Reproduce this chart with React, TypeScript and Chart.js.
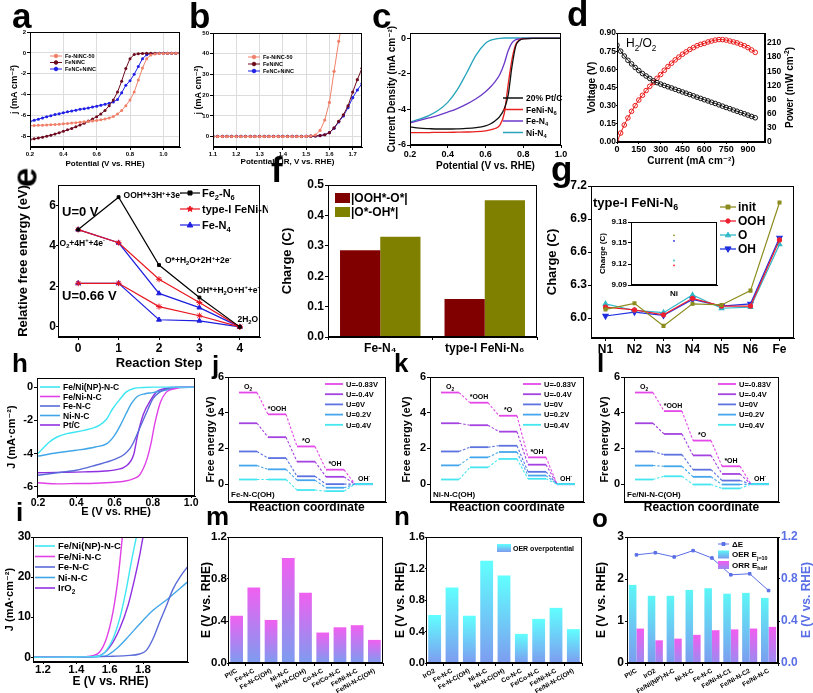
import React, { useEffect, useRef } from 'react';
import { Chart, registerables } from 'chart.js';

Chart.register(...registerables);

const FF = 'Arial, "Liberation Sans", "DejaVu Sans", sans-serif';

// ===================== DATA =====================
// (a) ORR polarization
const aPotential = [0.2, 0.225, 0.25, 0.275, 0.3, 0.325, 0.35, 0.375, 0.4, 0.425, 0.45, 0.475, 0.5, 0.525, 0.55, 0.575, 0.6, 0.625, 0.65, 0.675, 0.7, 0.725, 0.75, 0.775, 0.8, 0.825, 0.85, 0.875, 0.9, 0.925, 0.95, 0.975, 1.0, 1.025, 1.05, 1.075, 1.1];
const aFeNiNC50 = [-6.97, -6.95, -6.93, -6.91, -6.89, -6.87, -6.85, -6.82, -6.78, -6.75, -6.71, -6.67, -6.63, -6.58, -6.55, -6.51, -6.46, -6.4, -6.33, -6.22, -6.08, -5.85, -5.5, -5.05, -4.5, -3.75, -2.6, -1.45, -0.55, -0.2, -0.1, -0.06, -0.05, -0.04, -0.03, -0.03, -0.03];
const aFeNiNC = [-8.28, -8.22, -8.14, -8.06, -7.97, -7.87, -7.76, -7.63, -7.5, -7.36, -7.22, -7.07, -6.9, -6.72, -6.52, -6.32, -6.1, -5.84, -5.5, -5.05, -4.5, -3.75, -2.7, -1.5, -0.55, -0.15, -0.07, -0.05, -0.04, -0.04, -0.03, -0.03, -0.03, -0.03, -0.03, -0.03, -0.03];
const aFeNCNiNC = [-6.56, -6.45, -6.34, -6.22, -6.1, -6.0, -5.9, -5.81, -5.72, -5.64, -5.56, -5.48, -5.4, -5.33, -5.26, -5.18, -5.1, -5.01, -4.92, -4.82, -4.69, -4.45, -3.8, -3.1, -2.66, -2.05, -1.3, -0.55, -0.18, -0.08, -0.05, -0.04, -0.03, -0.03, -0.03, -0.03, -0.03];

// (b) OER polarization
const bPotential = [1.1, 1.12, 1.14, 1.16, 1.18, 1.2, 1.22, 1.24, 1.26, 1.28, 1.3, 1.32, 1.34, 1.36, 1.38, 1.4, 1.42, 1.44, 1.46, 1.48, 1.5, 1.52, 1.54, 1.56, 1.58, 1.6, 1.62, 1.64, 1.66, 1.68, 1.7, 1.72, 1.74];
const bFeNiNC50 = [0.05, 0.05, 0.05, 0.05, 0.05, 0.05, 0.05, 0.05, 0.05, 0.05, 0.05, 0.05, 0.05, 0.05, 0.05, 0.05, 0.05, 0.05, 0.05, 0.05, 0.1, 0.3, 0.8, 3.0, 8.0, 16.5, 31.5, 46, 58];
const bFeNiNC = [0.1, 0.1, 0.1, 0.1, 0.1, 0.1, 0.1, 0.1, 0.1, 0.1, 0.1, 0.1, 0.1, 0.1, 0.1, 0.1, 0.1, 0.1, 0.1, 0.1, 0.1, 0.2, 0.3, 0.5, 0.9, 1.9, 4.2, 7.4, 10.5, 14.8, 21.5, 27.5, 33];
const bFeNCNiNC = [0.1, 0.1, 0.1, 0.1, 0.1, 0.1, 0.1, 0.1, 0.1, 0.1, 0.1, 0.1, 0.1, 0.1, 0.1, 0.1, 0.1, 0.1, 0.1, 0.1, 0.1, 0.2, 0.3, 0.5, 0.9, 1.9, 4.0, 7.1, 10.0, 14.0, 18.8, 22.5, 25.6];

// (c) ORR curves
const cPotential = [0.2, 0.25, 0.3, 0.35, 0.4, 0.45, 0.5, 0.55, 0.6, 0.625, 0.65, 0.675, 0.7, 0.72, 0.74, 0.76, 0.78, 0.8, 0.85, 0.9, 0.95, 1.0];
const cPtC = [-4.98, -5.05, -5.08, -5.1, -5.1, -5.09, -5.07, -5.02, -4.92, -4.82, -4.65, -4.4, -3.95, -3.2, -1.6, -0.45, -0.12, -0.03, 0, 0, 0, 0];
const cFeNiN6 = [-5.3, -5.3, -5.3, -5.29, -5.29, -5.28, -5.27, -5.25, -5.2, -5.15, -5.07, -4.9, -4.2, -2.6, -1.2, -0.35, -0.08, -0.02, 0, 0, 0, 0];
const cFeN4 = [-4.75, -4.62, -4.48, -4.33, -4.15, -3.95, -3.7, -3.4, -3.0, -2.75, -2.45, -2.05, -1.4, -0.7, -0.25, -0.08, -0.03, -0.01, 0, 0, 0, 0];
const cNiN4 = [-4.7, -4.55, -4.35, -4.05, -3.6, -2.9, -1.95, -0.95, -0.28, -0.12, -0.05, 0, 0.02, 0.02, 0.02, 0.02, 0.02, 0.02, 0.02, 0.02, 0.02, 0.02];

// (d) H2/O2 fuel cell
const dCurrent = [0, 25, 50, 75, 100, 125, 150, 175, 200, 225, 250, 275, 300, 325, 350, 375, 400, 425, 450, 475, 500, 525, 550, 575, 600, 625, 650, 675, 700, 725, 750, 775, 800, 825, 850, 875, 900, 925, 950];
const dVoltage = [0.8, 0.75, 0.71, 0.675, 0.645, 0.615, 0.59, 0.565, 0.545, 0.525, 0.505, 0.49, 0.478, 0.467, 0.456, 0.446, 0.435, 0.424, 0.413, 0.403, 0.392, 0.381, 0.37, 0.36, 0.349, 0.339, 0.328, 0.318, 0.307, 0.296, 0.285, 0.275, 0.264, 0.254, 0.243, 0.233, 0.222, 0.211, 0.2];
const dPower = [0, 19, 36, 51, 65, 77, 89, 99, 109, 118, 126, 135, 143, 152, 160, 167, 174, 180, 186, 191, 196, 200, 204, 207, 209, 212, 214, 216, 217, 217, 216, 214, 212, 210, 207, 204, 200, 195, 190];

// (e) free energy diagram
const eSteps = [0, 1, 2, 3, 4];
const eFe2N6_U0 = [4.8, 6.4, 3.05, 1.45, 0];
const eFeNi_U0 = [4.8, 4.15, 2.35, 1.2, 0];
const eFeN4_U0 = [4.8, 4.15, 1.65, 0.95, 0];
const eFeNi_U066 = [2.15, 2.15, 1.0, 0.55, 0];
const eFeN4_U066 = [2.15, 2.15, 0.35, 0.3, 0];

// (f) charge differences
const fCats = ['Fe-N₄', 'type-I FeNi-N₆'];
const fOOH_O = [0.285, 0.125];
const fO_OH = [0.33, 0.45];

// (g) Bader charges
const gSites = ['N1', 'N2', 'N3', 'N4', 'N5', 'N6', 'Fe'];
const gInit = [6.08, 6.135, 5.93, 6.13, 6.12, 6.25, 7.05];
const gOOH = [6.1, 6.075, 6.03, 6.18, 6.11, 6.11, 6.71];
const gO = [6.13, 6.07, 6.05, 6.21, 6.09, 6.1, 6.67];
const gOH = [6.02, 6.055, 6.025, 6.17, 6.11, 6.13, 6.73];
const gInsetCats = ['Ni'];
const gInsetInit = [9.161];
const gInsetOOH = [9.118];
const gInsetO = [9.125];
const gInsetOH = [9.153];

// (h) ORR LSV
const hFeNiNP_E = [0.2, 0.26, 0.3, 0.35, 0.44, 0.52, 0.56, 0.59, 0.63, 0.66, 0.7, 0.75, 0.8, 1.02];
const hFeNiNP_J = [-4.0, -3.3, -3.0, -2.8, -2.6, -2.3, -1.9, -1.3, -0.7, -0.3, -0.08, -0.02, 0, 0];
const hFeNi_E = [0.2, 0.25, 0.3, 0.4, 0.5, 0.6, 0.65, 0.7, 0.73, 0.75, 0.77, 0.79, 0.81, 0.84, 0.87, 0.92, 0.96, 1.02];
const hFeNi_J = [-5.75, -5.8, -5.82, -5.8, -5.78, -5.72, -5.66, -5.5, -5.3, -4.9, -4.3, -3.4, -2.2, -0.9, -0.3, -0.08, -0.01, 0];
const hFeNC_E = [0.2, 0.3, 0.4, 0.5, 0.6, 0.65, 0.68, 0.7, 0.73, 0.77, 0.8, 0.84, 0.87, 0.92, 0.96, 1.02];
const hFeNC_J = [-5.3, -5.15, -5.0, -4.7, -4.35, -4.05, -3.7, -3.3, -2.5, -1.45, -0.7, -0.27, -0.1, -0.02, 0, 0];
const hNiNC_E = [0.2, 0.3, 0.4, 0.5, 0.56, 0.6, 0.63, 0.66, 0.69, 0.72, 0.76, 0.8, 0.87, 0.94, 1.02];
const hNiNC_J = [-4.15, -3.95, -3.8, -3.6, -3.4, -2.9, -2.3, -1.6, -0.95, -0.55, -0.4, -0.33, -0.17, -0.03, 0];
const hPtC_E = [0.2, 0.3, 0.44, 0.55, 0.61, 0.66, 0.7, 0.72, 0.75, 0.79, 0.82, 0.87, 0.92, 1.02];
const hPtC_J = [-5.15, -5.13, -5.1, -5.05, -4.96, -4.75, -4.05, -2.9, -1.65, -0.75, -0.27, -0.07, -0.01, 0];

// (i) OER LSV
const iFeNiNP_E = [1.14, 1.4, 1.5, 1.54, 1.58, 1.62, 1.66, 1.7, 1.73, 1.76, 1.78];
const iFeNiNP_J = [0, 0.05, 0.15, 0.3, 1.7, 4.6, 9.6, 17, 23.8, 30, 34];
const iFeNi_E = [1.14, 1.4, 1.46, 1.5, 1.54, 1.58, 1.62, 1.65, 1.676, 1.69];
const iFeNi_J = [0, 0.05, 0.15, 0.4, 1.3, 4.6, 11.3, 19.6, 30, 36];
const iFeNC_E = [1.14, 1.5, 1.6, 1.7, 1.78, 1.82, 1.86, 1.9, 1.94, 1.98, 2.03, 2.07];
const iFeNC_J = [0, 0.1, 0.2, 0.4, 0.8, 1.7, 4.6, 8.8, 12.8, 17.0, 20.5, 22.7];
const iNiNC_E = [1.14, 1.5, 1.54, 1.58, 1.64, 1.7, 1.78, 1.86, 1.95, 2.02, 2.07];
const iNiNC_J = [0, 0.1, 0.2, 0.4, 2.1, 4.6, 8.3, 11.7, 14.6, 17.1, 18.9];
const iIrO2_E = [1.14, 1.45, 1.5, 1.54, 1.6, 1.66, 1.71, 1.75, 1.78, 1.8, 1.82];
const iIrO2_J = [0, 0.1, 0.2, 0.4, 2.5, 7.1, 12.9, 19.6, 25.4, 30, 34];

// (j,k,l) free energy levels: rows = U=-0.83, -0.4, 0, 0.2, 0.4 V
const jLevels = [
  [5.13, 3.91, 2.11, 0.81, 0],
  [3.41, 2.63, 1.26, 0.41, 0],
  [1.83, 1.46, 0.44, 0.0, 0],
  [1.04, 0.83, 0.22, -0.2, 0],
  [0.26, 0.26, -0.33, -0.39, 0],
];
const kLevels = [
  [5.13, 4.56, 3.83, 1.5, 0],
  [3.41, 3.3, 2.94, 1.09, 0],
  [1.83, 2.07, 2.15, 0.69, 0],
  [1.05, 1.5, 1.8, 0.48, 0],
  [0.26, 0.94, 1.41, 0.3, 0],
];
const lLevels = [
  [5.13, 4.09, 2.44, 1.0, 0],
  [3.41, 2.81, 1.61, 0.57, 0],
  [1.83, 1.65, 0.81, 0.2, 0],
  [1.04, 1.0, 0.41, -0.02, 0],
  [0.26, 0.44, -0.02, -0.24, 0],
];
const uLabels = ['U=-0.83V', 'U=-0.4V', 'U=0V', 'U=0.2V', 'U=0.4V'];
const levelNames = ['O_{2}', '*OOH', '*O', '*OH', 'OH^{-}'];

// (m) ORR overpotential
const mCats = ['Pt/C', 'Fe-N-C', 'Fe-N-C(OH)', 'Ni-N-C', 'Ni-N-C(OH)', 'Co-N-C', 'Fe/Co-N-C', 'Fe/Ni-N-C', 'Fe/Ni-N-C(OH)'];
const mORR = [0.45, 0.72, 0.41, 1.0, 0.67, 0.29, 0.34, 0.36, 0.22];
// (n) OER overpotential
const nCats = ['IrO2', 'Fe-N-C', 'Fe-N-C(OH)', 'Ni-N-C', 'Ni-N-C(OH)', 'Co-N-C', 'Fe/Co-N-C', 'Fe/Ni-N-C', 'Fe/Ni-N-C(OH)'];
const nOER = [0.61, 0.96, 0.6, 1.3, 1.11, 0.37, 0.56, 0.7, 0.43];
// (o) bifunctional
const oCats = ['Pt/C', 'IrO2', 'Fe/Ni(NP)-N-C', 'Ni-N-C', 'Fe-N-C', 'Fe/Ni-N-C1', 'Fe/Ni-N-C2', 'Fe/Ni-N-C'];
const oOER = [1.86, 1.6, 1.6, 1.74, 1.78, 1.65, 1.67, 1.55];
const oORR = [0.82, 0.54, 0.58, 0.67, 0.78, 0.8, 0.82, 0.86];
const oDeltaE = [1.03, 1.05, 1.01, 1.07, 1.0, 0.84, 0.85, 0.69];

// ===================== HELPERS =====================
type Box = { l: number; t: number; r: number; b: number };
const f0 = (v: number) => String(v);
const f1 = (v: number) => v.toFixed(1);
const f2 = (v: number) => v.toFixed(2);
const xy = (xs: number[], ys: number[]) => ys.map((y, i) => ({ x: xs[i], y }));

function parseRich(s: string) {
  const parts: { t: string; k: number }[] = [];
  let cur = '';
  let i = 0;
  while (i < s.length) {
    if ((s[i] === '_' || s[i] === '^') && s[i + 1] === '{') {
      if (cur) { parts.push({ t: cur, k: 0 }); cur = ''; }
      const end = s.indexOf('}', i);
      parts.push({ t: s.slice(i + 2, end), k: s[i] === '_' ? 1 : 2 });
      i = end + 1;
    } else { cur += s[i]; i++; }
  }
  if (cur) parts.push({ t: cur, k: 0 });
  return parts;
}

function rich(ctx: CanvasRenderingContext2D, s: string, x: number, y: number, size: number, opt: any = {}) {
  const parts = parseRich(s);
  const w = opt.weight || 'bold';
  const font = (k: number) => `${w} ${k ? size * 0.68 : size}px ${FF}`;
  let total = 0;
  for (const p of parts) { ctx.font = font(p.k); total += ctx.measureText(p.t).width; }
  let cx = opt.align === 'center' ? x - total / 2 : opt.align === 'right' ? x - total : x;
  ctx.save();
  ctx.fillStyle = opt.color || '#000';
  ctx.textAlign = 'left';
  ctx.textBaseline = 'alphabetic';
  const base = y + size * 0.36;
  for (const p of parts) {
    ctx.font = font(p.k);
    const dy = p.k === 1 ? size * 0.28 : p.k === 2 ? -size * 0.4 : 0;
    ctx.fillText(p.t, cx, base + dy);
    cx += ctx.measureText(p.t).width;
  }
  ctx.restore();
  return total;
}

function vtext(ctx: CanvasRenderingContext2D, s: string, x: number, y: number, size: number, color = '#000') {
  ctx.save();
  ctx.translate(x, y);
  ctx.rotate(-Math.PI / 2);
  rich(ctx, s, 0, 0, size, { align: 'center', color });
  ctx.restore();
}

function mark(ctx: CanvasRenderingContext2D, style: string, x: number, y: number, r: number, color: string, filled = true) {
  ctx.save();
  ctx.beginPath();
  if (style === 'rect') ctx.rect(x - r, y - r, 2 * r, 2 * r);
  else if (style === 'triangle') { ctx.moveTo(x, y - r * 1.1); ctx.lineTo(x + r, y + r * 0.7); ctx.lineTo(x - r, y + r * 0.7); ctx.closePath(); }
  else if (style === 'triDown') { ctx.moveTo(x, y + r * 1.1); ctx.lineTo(x + r, y - r * 0.7); ctx.lineTo(x - r, y - r * 0.7); ctx.closePath(); }
  else if (style === 'star') {
    for (let k = 0; k < 10; k++) {
      const ang = -Math.PI / 2 + (k * Math.PI) / 5;
      const rr = k % 2 ? r * 0.45 : r;
      const px = x + rr * Math.cos(ang), py = y + rr * Math.sin(ang);
      if (k) ctx.lineTo(px, py); else ctx.moveTo(px, py);
    }
    ctx.closePath();
  } else ctx.arc(x, y, r, 0, Math.PI * 2);
  ctx.fillStyle = filled ? color : '#fff';
  ctx.strokeStyle = color;
  ctx.lineWidth = 1;
  ctx.fill();
  ctx.stroke();
  ctx.restore();
}

function legend(ctx: CanvasRenderingContext2D, items: any[], x: number, y: number, dy: number, size: number, symW: number, gap = 3) {
  items.forEach((it, i) => {
    const yy = y + i * dy;
    ctx.save();
    if (it.kind === 'box') {
      const h = it.h || size * 0.85;
      let fill: any = it.color;
      if (it.grad) {
        const g = ctx.createLinearGradient(0, yy - h / 2, 0, yy + h / 2);
        g.addColorStop(0, it.grad[0]);
        g.addColorStop(1, it.grad[1]);
        fill = g;
      }
      ctx.fillStyle = fill;
      ctx.fillRect(x, yy - h / 2, symW, h);
    } else {
      ctx.strokeStyle = it.color;
      ctx.lineWidth = it.lw || 1.5;
      if (it.dash) ctx.setLineDash(it.dash);
      ctx.beginPath();
      ctx.moveTo(x, yy);
      ctx.lineTo(x + symW, yy);
      ctx.stroke();
      ctx.setLineDash([]);
      if (it.marker) mark(ctx, it.marker, x + symW / 2, yy, it.mr || 2.5, it.color, it.mfill !== false);
    }
    ctx.restore();
    rich(ctx, it.label, x + symW + gap, yy, size);
  });
}

function scale(o: any) {
  const color = o.color || '#000';
  const horiz = o.pos === 'bottom';
  const s: any = {
    type: o.type || 'linear',
    position: o.pos,
    offset: !!o.offset,
    afterFit: (sc: any) => {
      if (horiz) sc.height = o.size; else sc.width = o.size;
      sc.paddingLeft = 0; sc.paddingRight = 0; sc.paddingTop = 0; sc.paddingBottom = 0;
    },
    grid: { display: o.marks !== false, drawOnChartArea: !!o.grid, color: '#dcdcdc', tickColor: '#000', tickLength: o.tl !== undefined ? o.tl : 3, lineWidth: 1 },
    border: { display: true, color: '#000', width: 1 },
    ticks: {
      display: o.show !== false,
      color,
      font: { family: FF, size: o.font || 10, weight: 'bold' },
      padding: o.pad !== undefined ? o.pad : 1,
      autoSkip: false,
      maxRotation: o.rot || 0,
      minRotation: o.rot || 0,
    },
    title: o.title
      ? { display: true, text: o.title, color, padding: 0, font: { family: FF, size: o.titleFont || 11, weight: 'bold' } }
      : { display: false },
  };
  if (o.min !== undefined) s.min = o.min;
  if (o.max !== undefined) s.max = o.max;
  if (o.ticks) s.afterBuildTicks = (sc: any) => { sc.ticks = o.ticks.map((v: number) => ({ value: v })); };
  if (o.fmt) s.ticks.callback = (v: any) => o.fmt(Number(v));
  return s;
}

function makeConfig(c: Box, p: Box, type: string, data: any, scales: any, draw?: any, extra: any = {}) {
  const hasRight = Object.keys(scales).some((k) => scales[k].position === 'right');
  return {
    type,
    data,
    options: {
      responsive: false,
      maintainAspectRatio: false,
      animation: false,
      devicePixelRatio: 1,
      events: [],
      layout: { padding: { top: p.t - c.t, left: 0, bottom: 0, right: hasRight ? 0 : c.r - p.r } },
      plugins: { legend: { display: false }, tooltip: { enabled: false } },
      scales,
      ...extra,
    },
    plugins: [
      {
        id: 'overlay',
        afterDraw(ch: any) {
          const ctx = ch.ctx;
          const a = ch.chartArea;
          ctx.save();
          ctx.strokeStyle = '#000';
          ctx.lineWidth = 1;
          ctx.strokeRect(Math.round(a.left) + 0.5, Math.round(a.top) + 0.5, Math.round(a.right) - Math.round(a.left) - 1, Math.round(a.bottom) - Math.round(a.top) - 1);
          if (draw) {
            ctx.translate(-c.l, -c.t);
            const X = (v: number) => ch.scales.x.getPixelForValue(v) + c.l;
            const Y = (v: number) => ch.scales.y.getPixelForValue(v) + c.t;
            draw(ctx, X, Y, ch);
          }
          ctx.restore();
        },
      },
    ],
  };
}

function barGrad(top: string, bottom: string) {
  return (cx: any) => {
    const ch = cx.chart;
    const sc = ch.scales.y;
    if (!ch.chartArea || !sc || cx.type !== 'data') return top;
    const y1 = sc.getPixelForValue(cx.raw);
    const y0 = sc.getPixelForValue(0);
    const g = ch.ctx.createLinearGradient(0, y1, 0, y0 + 0.01);
    g.addColorStop(0, top);
    g.addColorStop(1, bottom);
    return g;
  };
}

// ===================== PANELS =====================
const PA = { c: { l: 9, t: 20, r: 188, b: 169 }, p: { l: 30, t: 32, r: 180, b: 147 } };
const PB = { c: { l: 193, t: 20, r: 370, b: 167 }, p: { l: 213, t: 33, r: 362, b: 147 } };
const PC = { c: { l: 386, t: 20, r: 568, b: 172 }, p: { l: 410, t: 33, r: 561, b: 145 } };
const PD = { c: { l: 586, t: 20, r: 795, b: 167 }, p: { l: 617, t: 33, r: 765, b: 142 } };
const PE = { c: { l: 16, t: 175, r: 268, b: 371 }, p: { l: 58, t: 185, r: 260, b: 337 } };
const PF = { c: { l: 280, t: 175, r: 545, b: 362 }, p: { l: 328, t: 185, r: 537, b: 337 } };
const PG = { c: { l: 545, t: 175, r: 805, b: 360 }, p: { l: 591, t: 186, r: 794, b: 338 } };
const PGi = { c: { l: 598, t: 215, r: 722, b: 300 }, p: { l: 631, t: 222, r: 717, b: 285 } };
const PH = { c: { l: 5, t: 370, r: 200, b: 519 }, p: { l: 37, t: 378, r: 195, b: 496 } };
const PI = { c: { l: 3, t: 528, r: 195, b: 689 }, p: { l: 33, t: 537, r: 188, b: 662 } };
const PJ = { c: { l: 204, t: 370, r: 392, b: 515 }, p: { l: 228, t: 377, r: 386, b: 502 } };
const PK = { c: { l: 400, t: 370, r: 590, b: 515 }, p: { l: 430, t: 377, r: 584, b: 502 } };
const PL = { c: { l: 598, t: 370, r: 785, b: 515 }, p: { l: 624, t: 377, r: 779, b: 502 } };
const PM = { c: { l: 199, t: 528, r: 390, b: 693 }, p: { l: 228, t: 537, r: 383, b: 663 } };
const PN = { c: { l: 393, t: 528, r: 588, b: 693 }, p: { l: 426, t: 537, r: 582, b: 663 } };
const PO = { c: { l: 594, t: 528, r: 813, b: 693 }, p: { l: 627, t: 537, r: 778, b: 663 } };

function buildA() {
  const { c, p } = PA;
  const series: [string, number[], string][] = [
    ['Fe-NiNC-50', aFeNiNC50, '#f0806a'],
    ['FeNiNC', aFeNiNC, '#6e0a1e'],
    ['FeNC+NiNC', aFeNCNiNC, '#2020e6'],
  ];
  return makeConfig(c, p, 'line', {
    datasets: series.map((s) => ({ label: s[0], data: xy(aPotential, s[1]), borderColor: s[2], backgroundColor: s[2], borderWidth: 1, pointRadius: 1.5, pointBorderWidth: 0 })),
  }, {
    x: scale({ pos: 'bottom', size: c.b - p.b, min: 0.2, max: 1.1, ticks: [0.2, 0.4, 0.6, 0.8, 1.0], fmt: f1, font: 6, title: 'Potential (V vs. RHE)', titleFont: 8, grid: true }),
    y: scale({ pos: 'left', size: p.l - c.l, min: -9, max: 2, ticks: [-8, -6, -4, -2, 0, 2], fmt: f0, font: 6, title: 'j (mA cm⁻²)', titleFont: 9, grid: true }),
  }, (ctx: any) => {
    legend(ctx, series.map((s) => ({ label: s[0], color: s[2], marker: 'circle', mr: 1.8, lw: 1 })), 50, 56, 6.5, 5.5, 12);
  });
}

function buildB() {
  const { c, p } = PB;
  const series: [string, number[], string][] = [
    ['Fe-NiNC-50', bFeNiNC50, '#f0806a'],
    ['FeNiNC', bFeNiNC, '#6e0a1e'],
    ['FeNC+NiNC', bFeNCNiNC, '#2020e6'],
  ];
  return makeConfig(c, p, 'line', {
    datasets: series.map((s) => ({ label: s[0], data: xy(bPotential, s[1]), borderColor: s[2], backgroundColor: s[2], borderWidth: 1, pointRadius: 1.6, pointBorderWidth: 0 })),
  }, {
    x: scale({ pos: 'bottom', size: c.b - p.b, min: 1.1, max: 1.74, ticks: [1.1, 1.2, 1.3, 1.4, 1.5, 1.6, 1.7], fmt: f1, font: 6, title: 'Potential - iR, V vs. RHE)', titleFont: 8, grid: true }),
    y: scale({ pos: 'left', size: p.l - c.l, min: -5, max: 50, ticks: [0, 10, 20, 30, 40, 50], fmt: f0, font: 6, title: 'j (mA cm⁻²)', titleFont: 9, grid: true }),
  }, (ctx: any) => {
    legend(ctx, series.map((s) => ({ label: s[0], color: s[2], marker: 'circle', mr: 1.8, lw: 1 })), 248, 57, 7, 5.5, 12);
  });
}

function buildC() {
  const { c, p } = PC;
  const series: [string, number[], string][] = [
    ['20% Pt/C', cPtC, '#111111'],
    ['FeNi-N_{6}', cFeNiN6, '#e8201e'],
    ['Fe-N_{4}', cFeN4, '#6a38c8'],
    ['Ni-N_{4}', cNiN4, '#26a4bc'],
  ];
  return makeConfig(c, p, 'line', {
    datasets: series.map((s) => ({ label: s[0], data: xy(cPotential, s[1]), borderColor: s[2], borderWidth: 1.3, pointRadius: 0, cubicInterpolationMode: 'monotone' })),
  }, {
    x: scale({ pos: 'bottom', size: c.b - p.b, min: 0.2, max: 1.0, ticks: [0.2, 0.4, 0.6, 0.8, 1.0], fmt: f1, font: 9, title: 'Potential (V vs. RHE)', titleFont: 10 }),
    y: scale({ pos: 'left', size: p.l - c.l, min: -6, max: 0.3, ticks: [-6, -4, -2, 0], fmt: f0, font: 9, title: 'Current Density (mA cm⁻²)', titleFont: 10 }),
  }, (ctx: any) => {
    legend(ctx, series.map((s) => ({ label: s[0], color: s[2], lw: 1.5 })), 503, 98, 11.5, 8.5, 20);
  });
}

function buildD() {
  const { c, p } = PD;
  return makeConfig(c, p, 'line', {
    datasets: [
      { label: 'Voltage', data: xy(dCurrent, dVoltage), yAxisID: 'y', borderColor: '#111', backgroundColor: 'rgba(0,0,0,0)', borderWidth: 1, pointRadius: 2.3, pointBorderWidth: 1, pointBorderColor: '#111' },
      { label: 'Power', data: xy(dCurrent, dPower), yAxisID: 'y2', borderColor: '#e81818', backgroundColor: 'rgba(0,0,0,0)', borderWidth: 1, pointRadius: 2.3, pointBorderWidth: 1, pointBorderColor: '#e81818' },
    ],
  }, {
    x: scale({ pos: 'bottom', size: c.b - p.b, min: 0, max: 1017, ticks: [0, 150, 300, 450, 600, 750, 900], fmt: f0, font: 9, title: 'Current (mA cm⁻²)', titleFont: 10, tl: 2, pad: 0 }),
    y: scale({ pos: 'left', size: p.l - c.l, min: 0, max: 0.9, ticks: [0, 0.15, 0.3, 0.45, 0.6, 0.75, 0.9], fmt: f2, font: 8.5, title: 'Voltage (V)', titleFont: 10, tl: 1, pad: 0 }),
    y2: scale({ pos: 'right', size: c.r - p.r, min: 0, max: 231, ticks: [0, 30, 60, 90, 120, 150, 180, 210], fmt: f0, font: 8.5, tl: 1, pad: 1 }),
  }, (ctx: any) => {
    rich(ctx, 'H_{2}/O_{2}', 626, 43, 12, { weight: 'normal' });
    vtext(ctx, 'Power (mW cm^{-2})', 789, (p.t + p.b) / 2, 10);
  });
}

function buildE() {
  const { c, p } = PE;
  const black = '#000000', red = '#e8141e', blue = '#1e1ee0';
  const line = (label: string, ys: number[], color: string, ps: string, r: number) => ({
    label, data: xy(eSteps, ys), borderColor: color, backgroundColor: color, borderWidth: 1.2, pointStyle: ps, pointRadius: r, pointBorderWidth: 1,
  });
  return makeConfig(c, p, 'line', {
    datasets: [
      line('Fe2-N6', eFe2N6_U0, black, 'rect', 2),
      line('FeNi U0', eFeNi_U0, red, 'star', 3),
      line('FeNi U0.66', eFeNi_U066, red, 'star', 3),
      line('FeN4 U0', eFeN4_U0, blue, 'triangle', 2.8),
      line('FeN4 U0.66', eFeN4_U066, blue, 'triangle', 2.8),
    ],
  }, {
    x: scale({ pos: 'bottom', size: c.b - p.b, min: -0.5, max: 4.5, ticks: [0, 1, 2, 3, 4], fmt: f0, font: 12, title: 'Reaction Step', titleFont: 13 }),
    y: scale({ pos: 'left', size: p.l - c.l, min: -0.5, max: 7, ticks: [0, 2, 4, 6], fmt: f0, font: 12, title: 'Relative free energy (eV)', titleFont: 13, tl: 2, pad: 0 }),
  }, (ctx: any, X: any, Y: any) => {
    rich(ctx, 'OOH*+3H^{+}+3e^{-}', X(1) + 5, Y(eFe2N6_U0[1]) - 2, 8.5);
    rich(ctx, 'O_{2}+4H^{+}+4e^{-}', X(0) + 4, Y(eFeN4_U0[0]) + 13, 8.5, { align: 'center' });
    rich(ctx, 'O*+H_{2}O+2H^{+}+2e^{-}', X(2) + 6, Y(eFe2N6_U0[2]) - 5, 8.5);
    rich(ctx, 'OH*+H_{2}O+H^{+}+e^{-}', X(3) - 3, Y(eFe2N6_U0[3]) - 8, 8.5);
    rich(ctx, '2H_{2}O', X(4) + 8, Y(eFeN4_U0[4]) - 8, 8.5, { align: 'center' });
    rich(ctx, 'U=0 V', p.l + 4, Y(5.7), 13);
    rich(ctx, 'U=0.66 V', p.l + 4, Y(1.55), 13);
    legend(ctx, [
      { label: 'Fe_{2}-N_{6}', color: black, marker: 'rect', mr: 2, lw: 1.2 },
      { label: 'type-I FeNi-N_{6}', color: red, marker: 'star', mr: 3, lw: 1.2 },
      { label: 'Fe-N_{4}', color: blue, marker: 'triangle', mr: 2.8, lw: 1.2 },
    ], 180, 193, 16, 11, 20, 2);
  });
}

function buildF() {
  const { c, p } = PF;
  return makeConfig(c, p, 'bar', {
    labels: fCats,
    datasets: [
      { label: '|OOH*-O*|', data: fOOH_O, backgroundColor: '#800000', categoryPercentage: 0.77, barPercentage: 1 },
      { label: '|O*-OH*|', data: fO_OH, backgroundColor: '#808000', categoryPercentage: 0.77, barPercentage: 1 },
    ],
  }, {
    x: scale({ pos: 'bottom', type: 'category', size: c.b - p.b, offset: true, font: 12 }),
    y: scale({ pos: 'left', size: p.l - c.l, min: 0, max: 0.5, ticks: [0, 0.1, 0.2, 0.3, 0.4, 0.5], fmt: f1, font: 12, title: 'Charge (C)', titleFont: 13 }),
  }, (ctx: any) => {
    legend(ctx, [
      { label: '|OOH*-O*|', color: '#800000', kind: 'box', h: 10 },
      { label: '|O*-OH*|', color: '#808000', kind: 'box', h: 10 },
    ], 335, 198, 14, 12, 15, 1);
  });
}

const G_COLORS = { init: '#8c8c1e', OOH: '#ee2030', O: '#30b8c8', OH: '#2030e0' };

function buildG() {
  const { c, p } = PG;
  return makeConfig(c, p, 'line', {
    labels: gSites,
    datasets: [
      { label: 'init', data: gInit, borderColor: G_COLORS.init, backgroundColor: G_COLORS.init, pointStyle: 'rect', pointRadius: 2, borderWidth: 1.2 },
      { label: 'OOH', data: gOOH, borderColor: G_COLORS.OOH, backgroundColor: G_COLORS.OOH, pointStyle: 'circle', pointRadius: 2, borderWidth: 1.2 },
      { label: 'O', data: gO, borderColor: G_COLORS.O, backgroundColor: G_COLORS.O, pointStyle: 'triangle', pointRadius: 2.6, borderWidth: 1.2 },
      { label: 'OH', data: gOH, borderColor: G_COLORS.OH, backgroundColor: G_COLORS.OH, pointStyle: 'triangle', pointRotation: 180, pointRadius: 3, borderWidth: 1.2 },
    ],
  }, {
    x: scale({ pos: 'bottom', type: 'category', size: c.b - p.b, offset: true, font: 12 }),
    y: scale({ pos: 'left', size: p.l - c.l, min: 5.82, max: 7.2, ticks: [6.0, 6.3, 6.6, 6.9, 7.2], fmt: f1, font: 12, title: 'Charge (C)', titleFont: 13 }),
  }, (ctx: any) => {
    rich(ctx, 'type-I FeNi-N_{6}', 593, 202, 13);
    legend(ctx, [
      { label: 'init', color: G_COLORS.init, marker: 'rect', mr: 2, lw: 1.3 },
      { label: 'OOH', color: G_COLORS.OOH, marker: 'circle', mr: 2.2, lw: 1.3 },
      { label: 'O', color: G_COLORS.O, marker: 'triangle', mr: 2.6, lw: 1.3 },
      { label: 'OH', color: G_COLORS.OH, marker: 'triDown', mr: 3, lw: 1.3 },
    ], 720, 207, 14, 12, 16, 2);
  });
}

function buildGInset() {
  const { c, p } = PGi;
  const ds = (label: string, d: number[], color: string) => ({ label, data: d, borderColor: color, backgroundColor: color, pointRadius: 0.9, pointBorderWidth: 0, showLine: false });
  return makeConfig(c, p, 'line', {
    labels: gInsetCats,
    datasets: [ds('init', gInsetInit, G_COLORS.init), ds('OOH', gInsetOOH, G_COLORS.OOH), ds('O', gInsetO, G_COLORS.O), ds('OH', gInsetOH, G_COLORS.OH)],
  }, {
    x: scale({ pos: 'bottom', type: 'category', size: c.b - p.b, offset: true, font: 8, marks: false }),
    y: scale({ pos: 'left', size: p.l - c.l, min: 9.09, max: 9.18, ticks: [9.09, 9.12, 9.15, 9.18], fmt: f2, font: 8, title: 'Charge (C)', titleFont: 8 }),
  });
}

const H_COLORS = { np: '#3ee6f2', feni: '#e040e6', fe: '#5a6ad8', ni: '#40a6e8', pt: '#9030e0' };

function buildH() {
  const { c, p } = PH;
  const series: [string, number[], number[], string][] = [
    ['Fe/Ni(NP)-N-C', hFeNiNP_E, hFeNiNP_J, H_COLORS.np],
    ['Fe/Ni-N-C', hFeNi_E, hFeNi_J, H_COLORS.feni],
    ['Fe-N-C', hFeNC_E, hFeNC_J, H_COLORS.fe],
    ['Ni-N-C', hNiNC_E, hNiNC_J, H_COLORS.ni],
    ['Pt/C', hPtC_E, hPtC_J, H_COLORS.pt],
  ];
  return makeConfig(c, p, 'line', {
    datasets: series.map((s) => ({ label: s[0], data: xy(s[1], s[2]), borderColor: s[3], borderWidth: 1.4, pointRadius: 0, cubicInterpolationMode: 'monotone' })),
  }, {
    x: scale({ pos: 'bottom', size: c.b - p.b, min: 0.195, max: 1.02, ticks: [0.2, 0.4, 0.6, 0.8, 1.0], fmt: f1, font: 10.5, title: 'E (V vs. RHE)', titleFont: 11, tl: 2, pad: -1 }),
    y: scale({ pos: 'left', size: p.l - c.l, min: -6.55, max: 0.55, ticks: [-6, -4, -2, 0], fmt: f0, font: 11, title: 'J (mA·cm⁻²)', titleFont: 11 }),
  }, (ctx: any) => {
    legend(ctx, series.map((s) => ({ label: s[0], color: s[3], lw: 1.6 })), 40, 387, 9.5, 8.5, 20);
  });
}

function buildI() {
  const { c, p } = PI;
  const series: [string, number[], number[], string][] = [
    ['Fe/Ni(NP)-N-C', iFeNiNP_E, iFeNiNP_J, H_COLORS.np],
    ['Fe/Ni-N-C', iFeNi_E, iFeNi_J, H_COLORS.feni],
    ['Fe-N-C', iFeNC_E, iFeNC_J, H_COLORS.fe],
    ['Ni-N-C', iNiNC_E, iNiNC_J, H_COLORS.ni],
    ['IrO_{2}', iIrO2_E, iIrO2_J, H_COLORS.pt],
  ];
  return makeConfig(c, p, 'line', {
    datasets: series.map((s) => ({ label: s[0], data: xy(s[1], s[2]), borderColor: s[3], borderWidth: 1.4, pointRadius: 0, cubicInterpolationMode: 'monotone' })),
  }, {
    x: scale({ pos: 'bottom', size: c.b - p.b, min: 1.14, max: 2.07, ticks: [1.2, 1.4, 1.6, 1.8], fmt: f1, font: 11.5, title: 'E (V vs. RHE)', titleFont: 12, tl: 2, pad: -1 }),
    y: scale({ pos: 'left', size: p.l - c.l, min: -1.2, max: 30, ticks: [0, 10, 20, 30], fmt: f0, font: 12, title: 'J (mA·cm⁻²)', titleFont: 11, tl: 2, pad: 0 }),
  }, (ctx: any) => {
    legend(ctx, series.map((s) => ({ label: s[0], color: s[3], lw: 1.6 })), 35, 546, 10.5, 9.5, 20);
  });
}

const U_COLORS = ['#e448e8', '#a443e0', '#5b72e0', '#44a6ec', '#46e6f0'];
const LV_START = 0.38;
const LV_END = 1.0;
const STEP_PX = 29;

function buildEnergy(c: Box, p: Box, levels: number[][], tag: string) {
  const datasets = levels
    .map((vals, k) => ({
      label: uLabels[k],
      data: vals.flatMap((v, i) => [{ x: i + LV_START, y: v }, { x: i + LV_END, y: v }]),
      borderColor: U_COLORS[k],
      borderWidth: 1.8,
      pointRadius: 0,
      segment: {
        borderDash: (s: any) => (s.p0DataIndex % 2 === 1 ? [2.5, 1.8] : undefined),
        borderWidth: (s: any) => (s.p0DataIndex % 2 === 1 ? 1.1 : undefined),
      },
    }))
    .reverse();
  return makeConfig(c, p, 'line', { datasets }, {
    x: scale({ pos: 'bottom', size: c.b - p.b, min: 0, max: (p.r - p.l) / STEP_PX, show: false, marks: false, title: 'Reaction coordinate', titleFont: 12 }),
    y: scale({ pos: 'left', size: p.l - c.l, min: -1, max: 6, ticks: [0, 2, 4, 6], fmt: f0, font: 11, title: 'Free energy (eV)', titleFont: 11 }),
  }, (ctx: any, X: any, Y: any) => {
    levels[0].forEach((v, i) => rich(ctx, levelNames[i], X(i + (LV_START + LV_END) / 2), Y(v) - 6, 7, { align: 'center' }));
    rich(ctx, tag, p.l + 3, p.b - 8, 8);
    legend(ctx, uLabels.map((l, k) => ({ label: l, color: U_COLORS[k], lw: 1.8 })), p.r - 61, p.t + 7, 10.2, 7.5, 18);
  });
}

function buildOverpot(box: { c: Box; p: Box }, cats: string[], vals: number[], max: number, ticks: number[], label: string, grad: [string, string], legX: number) {
  const { c, p } = box;
  return makeConfig(c, p, 'bar', {
    labels: cats,
    datasets: [{ label, data: vals, backgroundColor: barGrad(grad[0], grad[1]), barPercentage: 0.74, categoryPercentage: 1 }],
  }, {
    x: scale({ pos: 'bottom', type: 'category', size: c.b - p.b, offset: true, rot: 30, font: 6.5 }),
    y: scale({ pos: 'left', size: p.l - c.l, min: 0, max, ticks, fmt: f1, font: 11.5, title: 'E (V vs. RHE)', titleFont: 12, tl: 1, pad: 0 }),
  }, (ctx: any) => {
    legend(ctx, [{ label, kind: 'box', grad, color: grad[0], h: 8 }], legX, 548, 10, 7, 14, 2);
  });
}

function buildO() {
  const { c, p } = PO;
  const blue = '#5a6fe6';
  return makeConfig(c, p, 'bar', {
    labels: oCats,
    datasets: [
      { type: 'line', label: 'ΔE', data: oDeltaE, yAxisID: 'y2', borderColor: blue, backgroundColor: blue, borderWidth: 1, pointStyle: 'rect', pointRadius: 1.8, order: 0 },
      { label: 'OER', data: oOER, backgroundColor: barGrad('#5cf6f6', '#7c9cf0'), categoryPercentage: 0.8, barPercentage: 1, order: 1 },
      { label: 'ORR', data: oORR, backgroundColor: barGrad('#f25cf0', '#9a8cf0'), categoryPercentage: 0.8, barPercentage: 1, order: 1 },
    ],
  }, {
    x: scale({ pos: 'bottom', type: 'category', size: c.b - p.b, offset: true, rot: 30, font: 6.5 }),
    y: scale({ pos: 'left', size: p.l - c.l, min: 0, max: 3, ticks: [0, 1, 2, 3], fmt: f0, font: 12, title: 'E (V vs. RHE)', titleFont: 12, tl: 2, pad: 1 }),
    y2: scale({ pos: 'right', size: c.r - p.r, min: 0, max: 1.2, ticks: [0, 0.4, 0.8, 1.2], fmt: f1, font: 12, color: blue, tl: 2, pad: 1 }),
  }, (ctx: any) => {
    legend(ctx, [
      { label: 'ΔE', color: blue, marker: 'rect', mr: 1.5, lw: 1 },
      { label: 'OER E_{j=10}', kind: 'box', grad: ['#5cf6f6', '#7c9cf0'], color: '#5cf6f6', h: 8 },
      { label: 'ORR E_{half}', kind: 'box', grad: ['#f25cf0', '#9a8cf0'], color: '#f25cf0', h: 8 },
    ], 718, 544, 10.5, 8, 11, 3);
    vtext(ctx, 'E (V vs. RHE)', 806, (p.t + p.b) / 2, 12, blue);
  });
}

// ===================== COMPONENTS =====================
function ChartBox({ c, build }: { c: Box; build: () => any }) {
  const ref = useRef<HTMLCanvasElement>(null);
  useEffect(() => {
    const ch = new Chart(ref.current as HTMLCanvasElement, build() as any);
    return () => ch.destroy();
  }, []);
  const w = c.r - c.l;
  const h = c.b - c.t;
  return <canvas ref={ref} width={w} height={h} style={{ position: 'absolute', left: c.l, top: c.t, width: w, height: h }} />;
}

const LETTERS: [string, number, number, number][] = [
  ['a', 12, 28, 35], ['b', 189, 28, 35], ['c', 372, 28, 35], ['d', 567, 26, 35],
  ['f', 271, 182, 35], ['g', 551, 181, 35],
  ['h', 12, 372, 26], ['j', 212, 374, 26], ['k', 394, 372, 26], ['l', 597, 372, 26],
  ['i', 16, 521, 26], ['m', 206, 525, 26], ['n', 394, 525, 26], ['o', 592, 527, 26],
];

export default function App() {
  return (
    <div style={{ position: 'absolute', left: 0, top: 0, width: 813, height: 693, background: '#fff', overflow: 'hidden' }}>
      <ChartBox c={PA.c} build={buildA} />
      <ChartBox c={PB.c} build={buildB} />
      <ChartBox c={PC.c} build={buildC} />
      <ChartBox c={PD.c} build={buildD} />
      <ChartBox c={PE.c} build={buildE} />
      <ChartBox c={PF.c} build={buildF} />
      <ChartBox c={PG.c} build={buildG} />
      <ChartBox c={PGi.c} build={buildGInset} />
      <ChartBox c={PH.c} build={buildH} />
      <ChartBox c={PI.c} build={buildI} />
      <ChartBox c={PJ.c} build={() => buildEnergy(PJ.c, PJ.p, jLevels, 'Fe-N-C(OH)')} />
      <ChartBox c={PK.c} build={() => buildEnergy(PK.c, PK.p, kLevels, 'Ni-N-C(OH)')} />
      <ChartBox c={PL.c} build={() => buildEnergy(PL.c, PL.p, lLevels, 'Fe/Ni-N-C(OH)')} />
      <ChartBox c={PM.c} build={() => buildOverpot(PM, mCats, mORR, 1.2, [0, 0.4, 0.8, 1.2], 'ORR overpotential', ['#f060f0', '#7d9cf0'], 498)} />
      <ChartBox c={PN.c} build={() => buildOverpot(PN, nCats, nOER, 1.6, [0, 0.4, 0.8, 1.2, 1.6], 'OER overpotential', ['#60ffff', '#7d9cf0'], 497)} />
      <ChartBox c={PO.c} build={buildO} />
      {LETTERS.map(([ch, x, base, size]) => (
        <div key={ch} style={{ position: 'absolute', left: x, top: base - 0.8465 * size, fontFamily: FF, fontWeight: 'bold', fontSize: size, lineHeight: `${size}px` }}>{ch}</div>
      ))}
      <div style={{ position: 'absolute', left: 4, top: 160, width: 40, height: 35, fontFamily: FF, fontWeight: 'bold', fontSize: 35, lineHeight: '35px', textAlign: 'center', transform: 'rotate(-90deg)' }}>e</div>
    </div>
  );
}
